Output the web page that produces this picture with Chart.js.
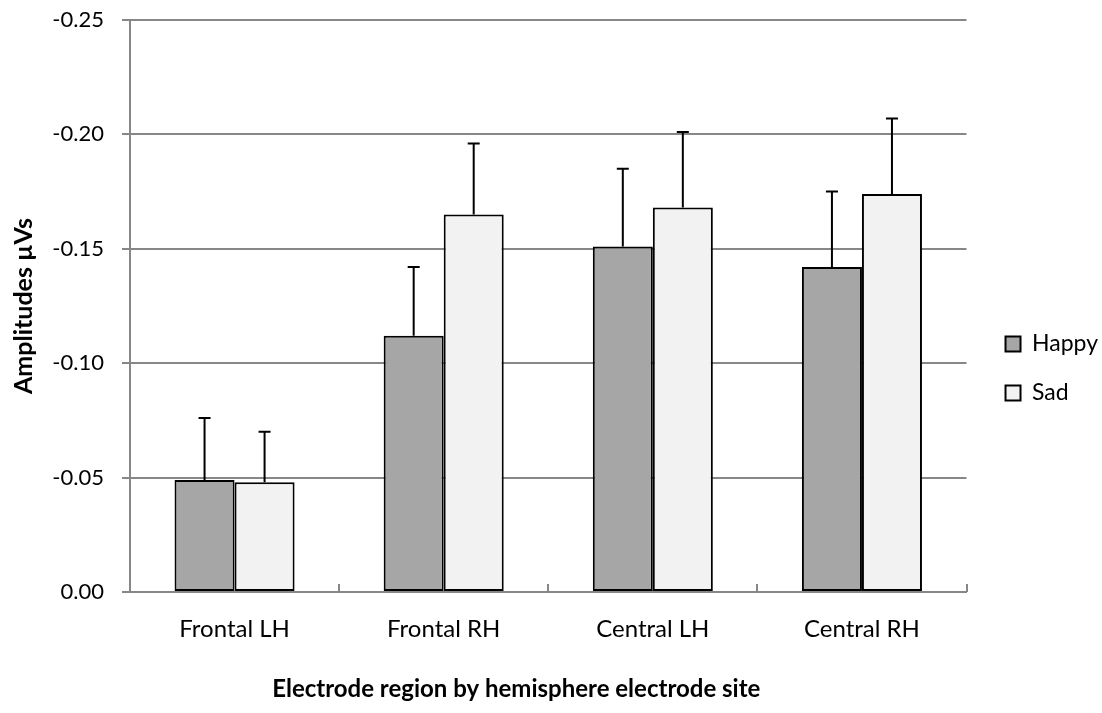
<!DOCTYPE html>
<html>
<head>
<meta charset="utf-8">
<script src="https://cdn.jsdelivr.net/npm/chart.js@4.4.1/dist/chart.umd.min.js"></script>
<style>
  html, body { margin: 0; padding: 0; background: #ffffff; }
  #wrap { width: 1102px; height: 713px; }
</style>
</head>
<body>
<div id="wrap"><canvas id="c" width="1102" height="713"></canvas></div>
<script>
// ---- data ----
const categories = ["Frontal LH", "Frontal RH", "Central LH", "Central RH"];
const happyValues = [-0.049, -0.112, -0.151, -0.142];
const sadValues = [-0.048, -0.165, -0.168, -0.174];
const happyErrors = [0.027, 0.030, 0.034, 0.033];
const sadErrors = [0.022, 0.031, 0.033, 0.033];
const yTickValues = [-0.25, -0.20, -0.15, -0.10, -0.05, 0.00];

const FONT = "Lato, 'Open Sans', sans-serif";
const GRID = "#878787";

const errorBarPlugin = {
  id: "errorBars",
  afterDatasetsDraw(chart) {
    const ctx = chart.ctx;
    const yScale = chart.scales.y;
    const errs = [happyErrors, sadErrors];
    chart.data.datasets.forEach((ds, di) => {
      const meta = chart.getDatasetMeta(di);
      meta.data.forEach((bar, i) => {
        const v = ds.data[i];
        const end = v - errs[di][i];
        const yEnd = yScale.getPixelForValue(end);
        const yStart = bar.y;
        ctx.save();
        ctx.strokeStyle = "#000000";
        ctx.lineWidth = 2;
        ctx.beginPath();
        ctx.moveTo(bar.x, yStart);
        ctx.lineTo(bar.x, yEnd);
        ctx.moveTo(bar.x - 6, yEnd);
        ctx.lineTo(bar.x + 6, yEnd);
        ctx.stroke();
        ctx.restore();
      });
    });
  }
};

const insideTicksPlugin = {
  id: "insideTicks",
  afterDraw(chart) {
    const ctx = chart.ctx;
    const xScale = chart.scales.x;
    const bottom = chart.chartArea.bottom;
    ctx.save();
    ctx.strokeStyle = GRID;
    ctx.lineWidth = 2;
    ctx.beginPath();
    for (let i = 0; i <= categories.length; i++) {
      const x = Math.round(xScale.getPixelForValue(i - 0.5));
      ctx.moveTo(x, bottom - 8);
      ctx.lineTo(x, bottom);
    }
    ctx.stroke();
    ctx.restore();
  }
};

// small placement tweaks: legend a bit further right/down, x title a bit left of centre
const placementPlugin = {
  id: "placement",
  afterLayout(chart) {
    const lg = chart.legend;
    if (lg) { lg.left += 13; lg.right += 13; lg.top += 2; lg.bottom += 2; }
    const xs = chart.scales.x;
    if (xs && !xs._titleShiftPatched) {
      const orig = xs.drawTitle;
      xs.drawTitle = function () {
        const l = this.left, r = this.right;
        this.left = l - 32; this.right = r - 32;
        orig.apply(this, arguments);
        this.left = l; this.right = r;
      };
      xs._titleShiftPatched = true;
    }
  }
};

new Chart(document.getElementById("c"), {
  type: "bar",
  data: {
    labels: categories,
    datasets: [
      {
        label: "Happy",
        data: happyValues,
        backgroundColor: "#a6a6a6",
        borderColor: "#000000",
        borderWidth: 2,
        borderSkipped: false,
        barPercentage: 1.0,
        categoryPercentage: 0.574
      },
      {
        label: "Sad",
        data: sadValues,
        backgroundColor: "#f2f2f2",
        borderColor: "#000000",
        borderWidth: 2,
        borderSkipped: false,
        barPercentage: 1.0,
        categoryPercentage: 0.574
      }
    ]
  },
  options: {
    responsive: false,
    animation: false,
    devicePixelRatio: 1,
    layout: { padding: { top: 20, right: 7, bottom: 0, left: 0 } },
    plugins: {
      legend: {
        position: "right",
        labels: {
          font: { family: FONT, size: 23 },
          color: "#000000",
          boxWidth: 15,
          boxHeight: 15,
          padding: 26
        }
      },
      tooltip: { enabled: false }
    },
    scales: {
      x: {
        grid: { display: false, drawOnChartArea: false, drawTicks: false },
        border: { display: true, color: GRID, width: 2 },
        ticks: {
          font: { family: FONT, size: 24 },
          color: "#000000",
          padding: 23
        },
        title: {
          display: true,
          text: "Electrode region by hemisphere electrode site",
          font: { family: FONT, size: 24, weight: "bold" },
          color: "#000000",
          padding: { top: 0, bottom: 9 }
        },
        afterFit(scale) { scale.height = 121; }
      },
      y: {
        reverse: true,
        min: -0.25,
        max: 0,
        afterBuildTicks(scale) {
          scale.ticks = yTickValues.map(v => ({ value: v }));
        },
        grid: { color: GRID, lineWidth: 2, tickLength: 8, drawTicks: true },
        border: { display: true, color: GRID, width: 2 },
        ticks: {
          font: { family: FONT, size: 22 },
          color: "#000000",
          padding: 18,
          callback: (v) => Number(v).toFixed(2)
        },
        title: {
          display: true,
          text: "Amplitudes µVs",
          font: { family: FONT, size: 25, weight: "bold" },
          color: "#000000",
          padding: { top: 9, bottom: 0 }
        },
        afterFit(scale) {
          scale.width = 130;
          scale.paddingTop = 0;
          scale.paddingBottom = 0;
        }
      }
    }
  },
  plugins: [errorBarPlugin, insideTicksPlugin, placementPlugin]
});
</script>
</body>
</html>
